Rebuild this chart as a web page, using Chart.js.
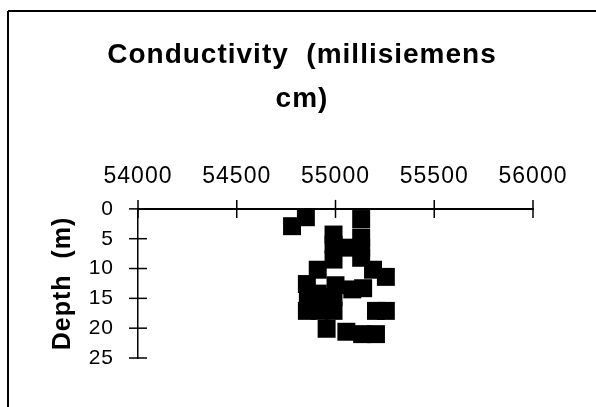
<!DOCTYPE html>
<html>
<head>
<meta charset="utf-8">
<script src="https://cdn.jsdelivr.net/npm/chart.js@4"></script>
<style>
  html, body { margin: 0; padding: 0; background: #fff; }
  #wrap { width: 596px; height: 407px; }
</style>
</head>
<body>
<div id="wrap"><canvas id="chart"></canvas></div>
<script>
// values
const conductivity = [54850, 54780, 55130, 55130, 55130, 54990, 54990, 55065, 54990, 55130,
  54910, 55190, 55255, 54855, 55000, 55085, 55140, 54910, 54990, 54860,
  54855, 54920, 54990, 55205, 55255, 54955, 55055, 55135, 55205];
const depth = [1.4, 2.9, 1.7, 4.8, 6.5, 4.3, 6.0, 6.5, 8.5, 8.2,
  10.2, 10.2, 11.4, 12.6, 12.8, 13.5, 13.3, 14.2, 14.8, 14.8,
  17.1, 17.1, 17.1, 17.1, 17.1, 20.1, 20.6, 21.0, 21.0];
const xTicks = [54000, 54500, 55000, 55500, 56000];
const yTicks = [0, 5, 10, 15, 20, 25];
const titleLines = ["Conductivity  (millisiemens", "cm)"];
const yTitle = "Depth  (m)";

const points = conductivity.map((v, i) => ({ x: v, y: depth[i] }));

// old spreadsheet look: slightly spaced text
const spacing = {
  id: "spacing",
  beforeUpdate(chart) { chart.ctx.letterSpacing = "1px"; },
  beforeDraw(chart) { chart.ctx.letterSpacing = "1px"; }
};

// ticks that cross the axis lines, plus the frame
const crossTicks = {
  id: "crossTicks",
  afterDraw(chart) {
    const ctx = chart.ctx;
    const x = chart.scales.x, y = chart.scales.y;
    const line = (a, b, c, d) => { ctx.beginPath(); ctx.moveTo(a, b); ctx.lineTo(c, d); ctx.stroke(); };
    ctx.save();
    ctx.strokeStyle = "#000";
    ctx.lineWidth = 1.5;
    x.ticks.forEach((t, i) => {
      const px = x.getPixelForTick(i);
      line(px, x.bottom - 9, px, x.bottom + 9);
    });
    y.ticks.forEach((t, i) => {
      const py = y.getPixelForTick(i);
      line(y.right - 9, py, y.right + 9, py);
    });
    ctx.lineWidth = 2;
    line(8, 11, 596, 11);
    line(8, 11, 8, 407);
    ctx.restore();
  }
};

new Chart(document.getElementById("chart"), {
  type: "scatter",
  data: {
    datasets: [{
      data: points,
      pointStyle: "rect",
      pointRadius: 12.7,
      pointHoverRadius: 12.7,
      backgroundColor: "#000",
      borderWidth: 0
    }]
  },
  options: {
    responsive: true,
    maintainAspectRatio: false,
    animation: false,
    layout: { padding: { left: 71, top: 0, right: 63, bottom: 49 } },
    plugins: {
      legend: { display: false },
      tooltip: { enabled: false },
      title: {
        display: true,
        text: titleLines,
        color: "#000",
        font: { family: "Liberation Sans", size: 28, weight: "bold", lineHeight: 1.58 },
        padding: { top: 33, bottom: 0 }
      }
    },
    scales: {
      x: {
        type: "linear",
        position: "top",
        min: xTicks[0],
        max: xTicks[xTicks.length - 1],
        afterBuildTicks: s => { s.ticks = xTicks.map(v => ({ value: v })); },
        afterFit: s => { s.height = 87.4; },
        grid: { display: false, drawTicks: false },
        border: { display: true, color: "#000", width: 2 },
        ticks: {
          color: "#000",
          padding: 18,
          maxRotation: 0,
          font: { family: "Liberation Sans", size: 23 },
          callback: v => String(v)
        }
      },
      y: {
        type: "linear",
        reverse: true,
        min: yTicks[0],
        max: yTicks[yTicks.length - 1],
        afterBuildTicks: s => { s.ticks = yTicks.map(v => ({ value: v })); },
        afterFit: s => { s.width = 67; },
        grid: { display: false, drawTicks: false },
        border: { display: true, color: "#000", width: 1.5 },
        title: {
          display: true,
          text: yTitle,
          color: "#000",
          font: { family: "Liberation Sans", size: 25, weight: "bold" },
          padding: { top: -23, bottom: 0 }
        },
        ticks: {
          color: "#000",
          padding: 24,
          font: { family: "Liberation Sans", size: 21 },
          callback: v => String(v)
        }
      }
    }
  },
  plugins: [spacing, crossTicks]
});
</script>
</body>
</html>
